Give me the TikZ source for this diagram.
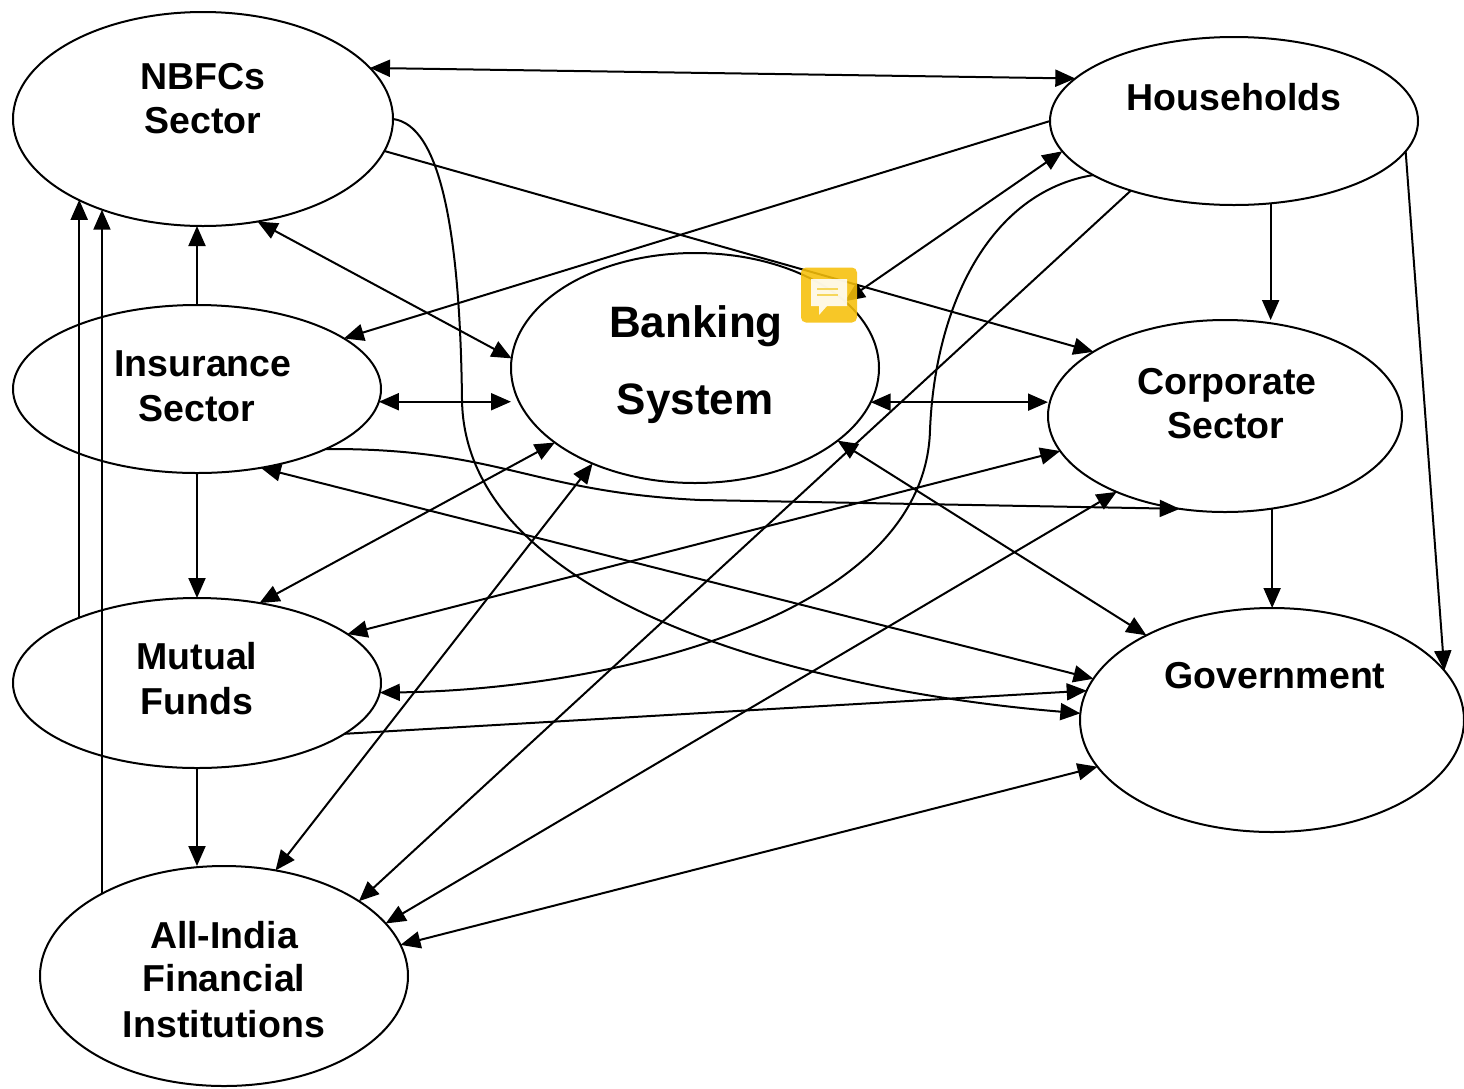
\documentclass[tikz,border=0pt]{standalone}
\usepackage{fontspec}
\setmainfont{Liberation Sans}
\usetikzlibrary{arrows.meta,shapes.geometric}
\definecolor{cmt}{HTML}{F7C00A}
\definecolor{cmtline}{HTML}{F6D75C}
\begin{document}
\begin{tikzpicture}[x=1pt,y=-1pt,
  ell/.style={draw,ellipse,line width=2pt,inner sep=0pt,outer sep=0pt},
  lbl/.style={anchor=base,inner sep=0pt,font=\fontsize{37.5}{44}\selectfont\bfseries},
  biglbl/.style={anchor=base,inner sep=0pt,font=\fontsize{44}{52}\selectfont\bfseries},
  link/.style={line width=2pt,-{Triangle[length=20pt,width=17pt]}},
  dlink/.style={line width=2pt,{Triangle[length=20pt,width=17pt]}-{Triangle[length=20pt,width=17pt]}},
]
\fill[white] (0,0) rectangle (1464,1088);
\useasboundingbox (0,0) rectangle (1464,1088);

% ellipses
\node[ell,minimum width=380pt,minimum height=214pt] (nbfc) at (203,119) {};
\node[ell,minimum width=368pt,minimum height=168pt] (ins) at (197,389) {};
\node[ell,minimum width=368pt,minimum height=170pt] (mf) at (197,683) {};
\node[ell,minimum width=368pt,minimum height=220pt] (aifi) at (224,976) {};
\node[ell,minimum width=368pt,minimum height=230pt] (bank) at (695,368) {};
\node[ell,minimum width=368pt,minimum height=168pt] (hh) at (1234,121) {};
\node[ell,minimum width=354pt,minimum height=192pt] (corp) at (1225,416) {};
\node[ell,minimum width=384pt,minimum height=224pt] (gov) at (1272,720) {};

% labels
\node[lbl] (nbfcA) at (203,89) {NBFCs};
\node[lbl] (nbfcB) at (203,133) {Sector};
\node[lbl] (insA) at (203,376) {Insurance};
\node[lbl] (insB) at (197,421) {Sector};
\node[lbl] (mfA) at (197,669) {Mutual};
\node[lbl] (mfB) at (197,714) {Funds};
\node[lbl] (aifiA) at (224,948) {All-India};
\node[lbl] (aifiB) at (224,991) {Financial};
\node[lbl] (aifiC) at (224,1037) {Institutions};
\node[biglbl] (bankA) at (696,337) {Banking};
\node[biglbl] (bankB) at (695,414) {System};
\node[lbl] (hhA) at (1234,110) {Households};
\node[lbl] (corpA) at (1227,394) {Corporate};
\node[lbl] (corpB) at (1226,438) {Sector};
\node[lbl] (govA) at (1275,688) {Government};

% connectors
\draw[dlink] (nbfc.17) -- (hh.165);
\draw[link] (nbfc.0) .. controls (440,125) and (460,230) .. (462,400)
  .. controls (465,600) and (800,690) .. (gov.178);
\draw[link] (nbfc.-10) -- (corp.154);
\draw[dlink] (nbfc.-62) -- (bank.177);
\draw[link] (ins.north) -- (ins.north |- nbfc.south);
\draw[link] (mf.151) -- (mf.151 |- nbfc.-147);
\draw[link] (aifi.146) -- (aifi.146 |- nbfc.-138);
\draw[link] (ins.south) -- (mf.north);
\draw[link] (mf.south) -- (mf.south |- aifi.north);
\draw[link] (hh.180) -- (ins.19);
\draw[dlink] (ins.-4) -- (ins.-4 -| bank.west);
\draw[link] (ins.-25) .. controls (500,448) and (530,492) .. (700,500) -- (corp.-116);
\draw[dlink] (ins.-51) -- (gov.167);
\draw[dlink] (bank.-152) -- (mf.52);
\draw[dlink] (bank.-137) -- (aifi.64);
\draw[dlink] (hh.-170) -- (bank.24);
\draw[dlink] (bank.-11) -- (bank.-11 -| corp.west);
\draw[dlink] (bank.-27) -- (gov.146);
\draw[link] (hh.-66) -- (hh.-66 |- corp.north);
\draw[link] (hh.-10) -- (gov.16);
\draw[link] (hh.-146) -- (aifi.29);
\draw[link] (hh.-159) .. controls (990,192) and (935,305) .. (930,430)
  .. controls (925,620) and (600,690) .. (mf.-3);
\draw[dlink] (corp.-168) -- (mf.18);
\draw[dlink] (corp.-145) -- (aifi.18);
\draw[link] (corp.-63) -- (corp.-63 |- gov.north);
\draw[dlink] (aifi.10) -- (gov.-165);
\draw[link] (mf.-19) -- (gov.171);

% comment icon
\begin{scope}[fill opacity=0.88]
\node[fill=cmt,rounded corners=5pt,minimum width=56pt,minimum height=55pt,inner sep=0pt] (cicon) at (829,295) {};
\fill[white] (811,279) -- (847,279) -- (847,306) -- (827,306) -- (819,315) -- (819,306) -- (811,306) -- cycle;
\end{scope}
\draw[cmtline,line width=2pt] (817,289) -- (838,289);
\draw[cmtline,line width=2pt] (817,295) -- (838,295);
\end{tikzpicture}
\end{document}
